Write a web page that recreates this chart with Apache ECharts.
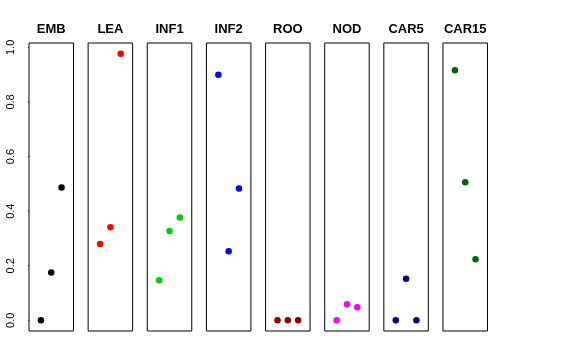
<!DOCTYPE html>
<html>
<head>
<meta charset="utf-8">
<script src="https://cdn.jsdelivr.net/npm/echarts@6/dist/echarts.min.js"></script>
<style>html,body{margin:0;padding:0;background:#fff}#c{width:576px;height:360px}</style>
</head>
<body>
<div id="c"></div>
<script>
var panels = ['EMB','LEA','INF1','INF2','ROO','NOD','CAR5','CAR15'];
var colors = ['#000000','#FF0000','#00CD00','#0000FF','#8B0000','#FF00FF','#00008B','#006400'];
var xPos = [1, 2, 3];
var EMB = [0.000, 0.175, 0.487];
var LEA = [0.280, 0.341, 0.977];
var INF1 = [0.147, 0.327, 0.377];
var INF2 = [0.900, 0.253, 0.483];
var ROO = [0.000, 0.000, 0.000];
var NOD = [0.000, 0.059, 0.048];
var CAR5 = [0.000, 0.152, 0.000];
var CAR15 = [0.916, 0.506, 0.224];
var yTicks = [0, 0.2, 0.4, 0.6, 0.8, 1.0];
var values = [EMB, LEA, INF1, INF2, ROO, NOD, CAR5, CAR15];

var chart = echarts.init(document.getElementById('c'), null, {renderer:'canvas'});
var grids=[], xAxes=[], yAxes=[], series=[], titles=[];
var gLeft0 = 29, gStep = 59.14, gW = 44.5, gTop = 43, gH = 288;
var allVals = [].concat.apply([], values);
var ymaxD = Math.max.apply(null, allVals), yminD = Math.min.apply(null, allVals);
var pad = (ymaxD - yminD) * 0.04;
var yLo = yminD - pad, yHi = ymaxD + pad;
panels.forEach(function(p, i){
  var l = gLeft0 + i*gStep;
  grids.push({left: l, top: gTop, width: gW, height: gH, show: true, borderColor: '#000', borderWidth: 1, backgroundColor: 'transparent'});
  xAxes.push({type:'value', gridIndex:i, min: 0 - 0.16, max: 4 + 0.16, show:false});
  var ya = {type:'value', gridIndex:i, min: yLo, max: yHi, splitLine:{show:false}, axisLine:{show:false}, axisTick:{show:false}, axisLabel:{show:false}};
  if (i === 0) {
    ya.axisLabel = {show:true, customValues: yTicks, rotate:90, margin:13, fontSize:11, color:'#000', fontFamily:'Liberation Sans',
      formatter: function(v){ return Number(v).toFixed(1); }};
  }
  yAxes.push(ya);
  series.push({type:'scatter', xAxisIndex:i, yAxisIndex:i, symbol:'circle', symbolSize:6.5,
    itemStyle:{color: colors[i], opacity:1}, silent:true,
    data: xPos.map(function(x, k){ return [x, values[i][k]]; })});
  titles.push({text: p, left: l + gW/2, top: 23, textAlign:'center', padding:0,
    textStyle:{fontSize:13, fontWeight:'bold', color:'#000', fontFamily:'Liberation Sans'}});
});
// tick marks for the left axis: a line series drawn in the first panel's scale,
// each tick a short segment from just outside the box to its edge
var xTickOuter = -0.16 - 7 * (4.32 / gW), xTickInner = -0.16;
yTicks.forEach(function(v){
  series.push({type:'line', xAxisIndex:0, yAxisIndex:0, silent:true, symbol:'none', clip:false,
    lineStyle:{color:'#000', width:1}, data:[[xTickOuter, v], [xTickInner, v]], z:10});
});
chart.setOption({animation:false, title: titles, grid: grids, xAxis: xAxes, yAxis: yAxes, series: series});
</script>
</body>
</html>
